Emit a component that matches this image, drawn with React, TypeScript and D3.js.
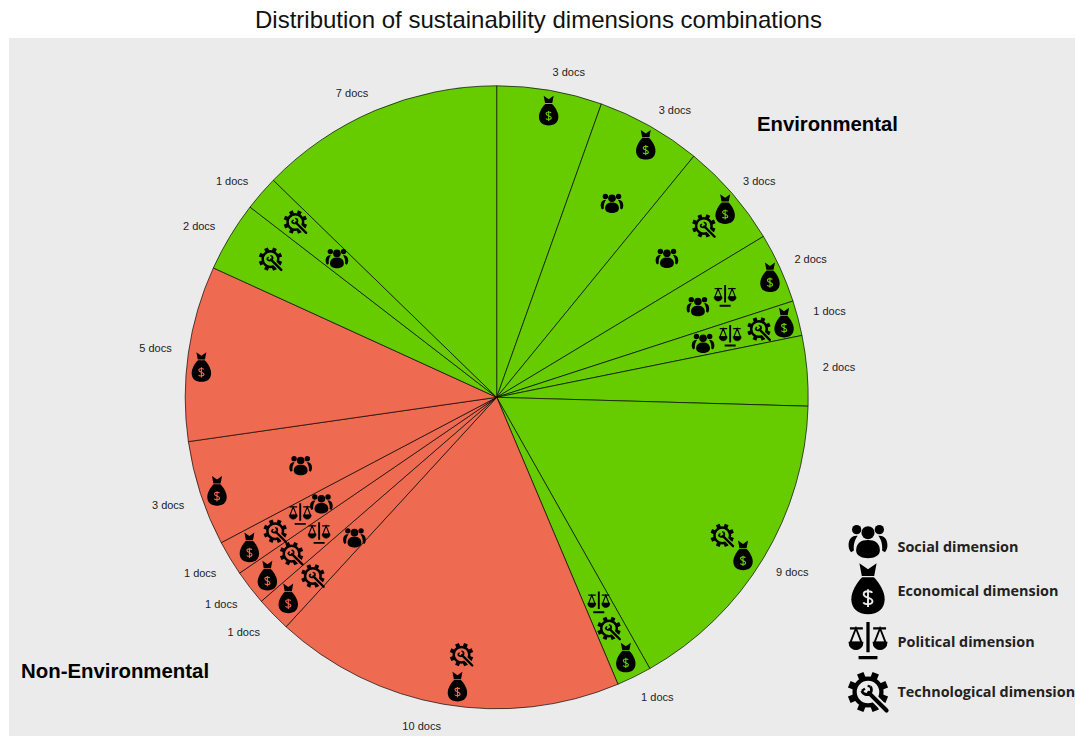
import React from "react";
import * as d3 from "d3";

// docs per slice, clockwise from 12 o'clock
const docCounts = [3, 3, 3, 2, 1, 2, 9, 1, 10, 1, 1, 1, 3, 5, 2, 1, 7];
const environmental = [true, true, true, true, true, true, true, true, false, false, false, false, false, false, true, true, true];

// icons on the pie: dimension, position along the pie (in docs), distance from centre (share of radius)
const iconDims = ["E", "E", "S", "E", "T", "S", "E", "P", "S", "E", "T", "P", "S", "T", "E", "E", "T", "P", "E", "T", "E", "T", "S", "E", "T", "P", "E", "T", "P", "S", "E", "S", "E", "T", "T", "S"];
const iconDocs = [1.57, 4.67, 4.69, 7.72, 7.7, 7.75, 10.13, 10.1, 10.03, 11.53, 11.52, 11.5, 11.5, 18.56, 18.75, 23.47, 23.54, 23.46, 28.68, 28.69, 34.53, 34.5, 34.44, 35.46, 35.55, 35.53, 36.47, 36.49, 36.55, 36.48, 38.42, 38.33, 42.14, 46.05, 47.52, 47.52];
const iconRadii = [0.935, 0.941, 0.725, 0.95, 0.863, 0.706, 0.958, 0.802, 0.709, 0.953, 0.87, 0.775, 0.685, 0.849, 0.94, 0.933, 0.825, 0.736, 0.938, 0.834, 0.93, 0.823, 0.641, 0.933, 0.828, 0.718, 0.929, 0.831, 0.734, 0.658, 0.947, 0.666, 0.953, 0.851, 0.857, 0.68];

const legendDims = ["S", "E", "P", "T"];
const legendLabels = ["Social dimension", "Economical dimension", "Political dimension", "Technological dimension"];

const width = 1075;
const height = 736;
const cx = 496.7;
const cy = 397.3;
const radius = 311.5;
const GREEN = "#66cc00";
const RED = "#ee6a50";
const PANEL = "#ebebeb";

// small hand nudges so the doc labels sit where the original has them
const labelDx = [0, 1, -1, 0, 0, 0, -1, 0, 0, -2, 0, 0, -1, -1, -1, -1, -1];
const labelDy = [3, 3, 2, 0, -2, -2, 3, 1, 1, 3, 4, 4, 5, -2, 1, 2, 3];

const gearTeeth = d3.range(8).map((i) => i * 45 + 22.5);

const Icon: React.FC<{ dim: string; x: number; y: number; k: number; bg: string }> = ({ dim, x, y, k, bg }) => {
  const t = `translate(${x},${y}) scale(${k})`;
  if (dim === "E") {
    return (
      <g transform={t}>
        <path d="M-5,-15 L0,-11.5 L5,-15 L3.6,-7.6 L-3.6,-7.6 Z" fill="#000" />
        <path d="M-3.4,-6.8 L3.4,-6.8 C6.7,-3.5 9.7,1.5 9.7,6 C9.7,11.5 5.7,14.7 0,14.7 C-5.7,14.7 -9.7,11.5 -9.7,6 C-9.7,1.5 -6.7,-3.5 -3.4,-6.8 Z" fill="#000" />
        <path d="M2.4,2.2 C1.9,1 -2.5,0.7 -2.5,3 C-2.5,5.4 2.6,4.6 2.6,7.1 C2.6,9.4 -2.1,9.1 -2.7,7.8 M0,0.2 L0,10.4" fill="none" stroke={bg} strokeWidth={1.1} />
      </g>
    );
  }
  if (dim === "S") {
    return (
      <g transform={t} fill="#000">
        <circle cx={-6.6} cy={-6.6} r={2.7} />
        <circle cx={6.6} cy={-6.6} r={2.7} />
        <circle cx={0} cy={-4.8} r={3.8} />
        <path d="M-11.3,2.5 C-11.3,-2 -8.5,-3.4 -6,-3 C-7.4,-1 -8.6,1.5 -8.2,5.5 L-9.8,6.5 C-10.8,5.5 -11.3,4 -11.3,2.5 Z" />
        <path d="M11.3,2.5 C11.3,-2 8.5,-3.4 6,-3 C7.4,-1 8.6,1.5 8.2,5.5 L9.8,6.5 C10.8,5.5 11.3,4 11.3,2.5 Z" />
        <path d="M-6.9,5.5 C-6.9,1.2 -4,-0.6 0,-0.6 C4,-0.6 6.9,1.2 6.9,5.5 C6.9,8.5 3.5,10 0,10 C-3.5,10 -6.9,8.5 -6.9,5.5 Z" />
      </g>
    );
  }
  if (dim === "P") {
    return (
      <g transform={t} fill="#000" stroke="#000">
        <path d="M0,-11 L0,6.5 M-5.5,9.6 L5.5,9.6" fill="none" strokeWidth={1.9} />
        <path d="M-10.5,-7.4 L-3,-7.4 M10.5,-7.4 L3,-7.4" fill="none" strokeWidth={1.3} />
        <path d="M-7,-7.4 L-10.2,0.8 L-3.8,0.8 Z M7,-7.4 L10.2,0.8 L3.8,0.8 Z" fill="none" strokeWidth={1.1} />
        <path d="M-11,0.8 L-3,0.8 C-3,6.3 -11,6.3 -11,0.8 Z M11,0.8 L3,0.8 C3,6.3 11,6.3 11,0.8 Z" strokeWidth={0.6} />
      </g>
    );
  }
  return (
    <g transform={t}>
      {gearTeeth.map((a) => (
        <rect key={a} x={-2} y={-11.8} width={4} height={3.6} fill="#000" transform={`rotate(${a})`} />
      ))}
      <circle r={7.8} fill="none" stroke="#000" strokeWidth={2.5} />
      <path d="M3,3 L9.5,9.5" stroke={bg} strokeWidth={4.6} />
      <path d="M0.5,0.5 L10.8,10.8" stroke="#000" strokeWidth={2.4} strokeLinecap="round" />
      <path d="M-3.6,-0.6 A3.3,3.3 0 0 0 0.8,1.2 A3.3,3.3 0 0 0 1.4,-3.2" fill="none" stroke="#000" strokeWidth={1.7} />
      <path d="M-3.6,-0.6 L-1.8,-2 M1.4,-3.2 L-0.2,-3.6" fill="none" stroke="#000" strokeWidth={1.3} />
    </g>
  );
};

const App: React.FC = () => {
  const angle = d3.scaleLinear().domain([0, d3.sum(docCounts)]).range([0, 2 * Math.PI]);
  const share = d3.scaleLinear().domain([0, 1]).range([0, radius]);

  const pie = d3.pie<number>().sort(null).value((d) => d)(docCounts);
  const arc = d3.arc<d3.PieArcDatum<number>>().innerRadius(0).outerRadius(radius);
  const labelArc = d3.arc<d3.PieArcDatum<number>>().innerRadius(333).outerRadius(333);
  const cumulative = Array.from(d3.cumsum(docCounts));

  return (
    <svg width={width} height={height} style={{ position: "absolute", left: 0, top: 0 }}>
      <rect x={9} y={38} width={width - 9} height={height - 38} fill={PANEL} />
      <text x={538.5} y={28} textAnchor="middle" fontFamily="Liberation Sans" fontSize={24} fill="#111">
        Distribution of sustainability dimensions combinations
      </text>

      <g transform={`translate(${cx},${cy})`}>
        {pie.map((d, i) => (
          <path key={i} d={arc(d) || ""} fill={environmental[i] ? GREEN : RED} stroke="#000" strokeOpacity={0.75} strokeWidth={0.9} />
        ))}
        {pie.map((d, i) => {
          const [lx, ly] = labelArc.centroid(d);
          return (
            <text key={i} x={lx * 0.983 + labelDx[i]} y={ly + labelDy[i]} dy="0.35em" textAnchor={lx > 0 ? "start" : "end"} fontFamily="Liberation Sans" fontSize={11} fill="#222">
              {`${d.value} docs`}
            </text>
          );
        })}
        {iconDims.map((dim, i) => {
          const [ix, iy] = d3.pointRadial(angle(iconDocs[i]), share(iconRadii[i]));
          const slice = d3.bisectRight(cumulative, iconDocs[i]);
          return <Icon key={i} dim={dim} x={ix} y={iy} k={1} bg={environmental[slice] ? GREEN : RED} />;
        })}
      </g>

      <text x={757} y={131} fontFamily="Liberation Sans" fontWeight="bold" fontSize={20.3} fill="#000">
        Environmental
      </text>
      <text x={21} y={678} fontFamily="Liberation Sans" fontWeight="bold" fontSize={20.4} fill="#000">
        Non-Environmental
      </text>

      {legendDims.map((dim, i) => (
        <g key={dim}>
          <Icon dim={dim} x={868} y={[541, 589, 641, 692][i]} k={1.72} bg={PANEL} />
          <text x={897.5} y={[552, 596, 647, 697][i]} fontFamily="Open Sans" fontWeight="bold" fontSize={14.4} fill="#222">
            {legendLabels[i]}
          </text>
        </g>
      ))}
    </svg>
  );
};

export default App;
